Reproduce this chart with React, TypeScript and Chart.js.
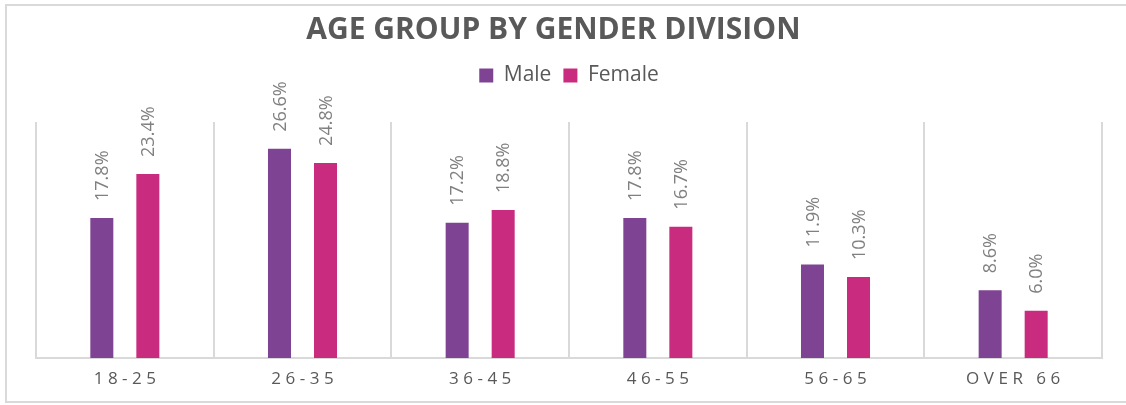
import React, { useEffect, useRef } from "react";
import { Chart, registerables } from "chart.js";

Chart.register(...registerables);

const categories = ["18-25", "26-35", "36-45", "46-55", "56-65", "OVER 66"];
const maleValues = [17.8, 26.6, 17.2, 17.8, 11.9, 8.6];
const femaleValues = [23.4, 24.8, 18.8, 16.7, 10.3, 6.0];
const seriesNames = ["Male", "Female"];
const chartTitle = "AGE GROUP BY GENDER DIVISION";

const FONT = "'Open Sans', sans-serif";

const frameBorder = {
  id: "frameBorder",
  beforeDraw(chart: any) {
    const ctx = chart.ctx;
    ctx.save();
    ctx.fillStyle = "#ffffff";
    ctx.fillRect(0, 0, chart.width, chart.height);
    ctx.strokeStyle = "#d9d9d9";
    ctx.lineWidth = 2;
    ctx.strokeRect(6, 5, chart.width + 4, 397);
    ctx.restore();
  },
};

const spacedTicks = {
  id: "spacedTicks",
  afterDraw(chart: any) {
    const ctx = chart.ctx;
    const xs = chart.scales.x;
    ctx.save();
    ctx.font = `17px ${FONT}`;
    ctx.fillStyle = "#595959";
    ctx.textAlign = "center";
    ctx.textBaseline = "middle";
    const ls = 4.5;
    (ctx as any).letterSpacing = `${ls}px`;
    categories.forEach((label, i) => {
      const x = xs.getPixelForTick(i);
      ctx.fillText(label, x + ls / 2, chart.chartArea.bottom + 21);
    });
    ctx.restore();
  },
};

const barLabels = {
  id: "barLabels",
  afterDatasetsDraw(chart: any) {
    const ctx = chart.ctx;
    ctx.save();
    ctx.font = `18px ${FONT}`;
    ctx.fillStyle = "#808080";
    ctx.textAlign = "left";
    ctx.textBaseline = "middle";
    chart.data.datasets.forEach((ds: any, di: number) => {
      const meta = chart.getDatasetMeta(di);
      meta.data.forEach((el: any, i: number) => {
        const v = ds.data[i];
        ctx.save();
        ctx.translate(el.x + 1, el.y - 17);
        ctx.rotate(-Math.PI / 2);
        ctx.fillText(v.toFixed(1) + "%", 0, 0);
        ctx.restore();
      });
    });
    ctx.restore();
  },
};

export default function App() {
  const ref = useRef<HTMLCanvasElement>(null);

  useEffect(() => {
    if (!ref.current) return;
    Chart.defaults.font.family = FONT;
    const chart = new Chart(ref.current, {
      type: "bar",
      data: {
        labels: categories,
        datasets: [
          {
            label: seriesNames[0],
            data: maleValues,
            backgroundColor: "#7f4393",
            categoryPercentage: 0.518,
            barPercentage: 0.5,
          },
          {
            label: seriesNames[1],
            data: femaleValues,
            backgroundColor: "#c92c7f",
            categoryPercentage: 0.518,
            barPercentage: 0.5,
          },
        ],
      },
      options: {
        animation: false,
        responsive: false,
        devicePixelRatio: 1,
        layout: { padding: { top: 0, left: 36, right: 24, bottom: 47 } },
        plugins: {
          title: {
            display: true,
            text: chartTitle + "    ",
            color: "#595959",
            font: { size: 30, weight: "bold", family: FONT, lineHeight: 1.2 },
            padding: { top: 12, bottom: 5 },
          },
          subtitle: {
            display: true,
            text: "",
            font: { size: 1, lineHeight: 1 },
            padding: { top: 10, bottom: 15 },
            weight: 500,
          } as any,
          legend: {
            display: true,
            position: "top",
            labels: {
              boxWidth: 14,
              boxHeight: 14,
              color: "#595959",
              font: { size: 21, family: FONT },
              padding: 12,
            },
          },
          tooltip: { enabled: false },
        },
        scales: {
          x: {
            grid: {
              display: true,
              color: "#d9d9d9",
              lineWidth: 2,
              drawTicks: false,
              offset: true,
            },
            border: { display: true, color: "#d9d9d9", width: 2 },
            ticks: { display: false },
          },
          y: {
            display: false,
            min: 0,
            max: 30,
          },
        },
      },
      plugins: [frameBorder, barLabels, spacedTicks],
    });
    return () => chart.destroy();
  }, []);

  return (
    <div style={{ position: "fixed", left: 0, top: 0, width: 1126, height: 405 }}>
      <canvas ref={ref} width={1126} height={405} style={{ display: "block" }} />
    </div>
  );
}
